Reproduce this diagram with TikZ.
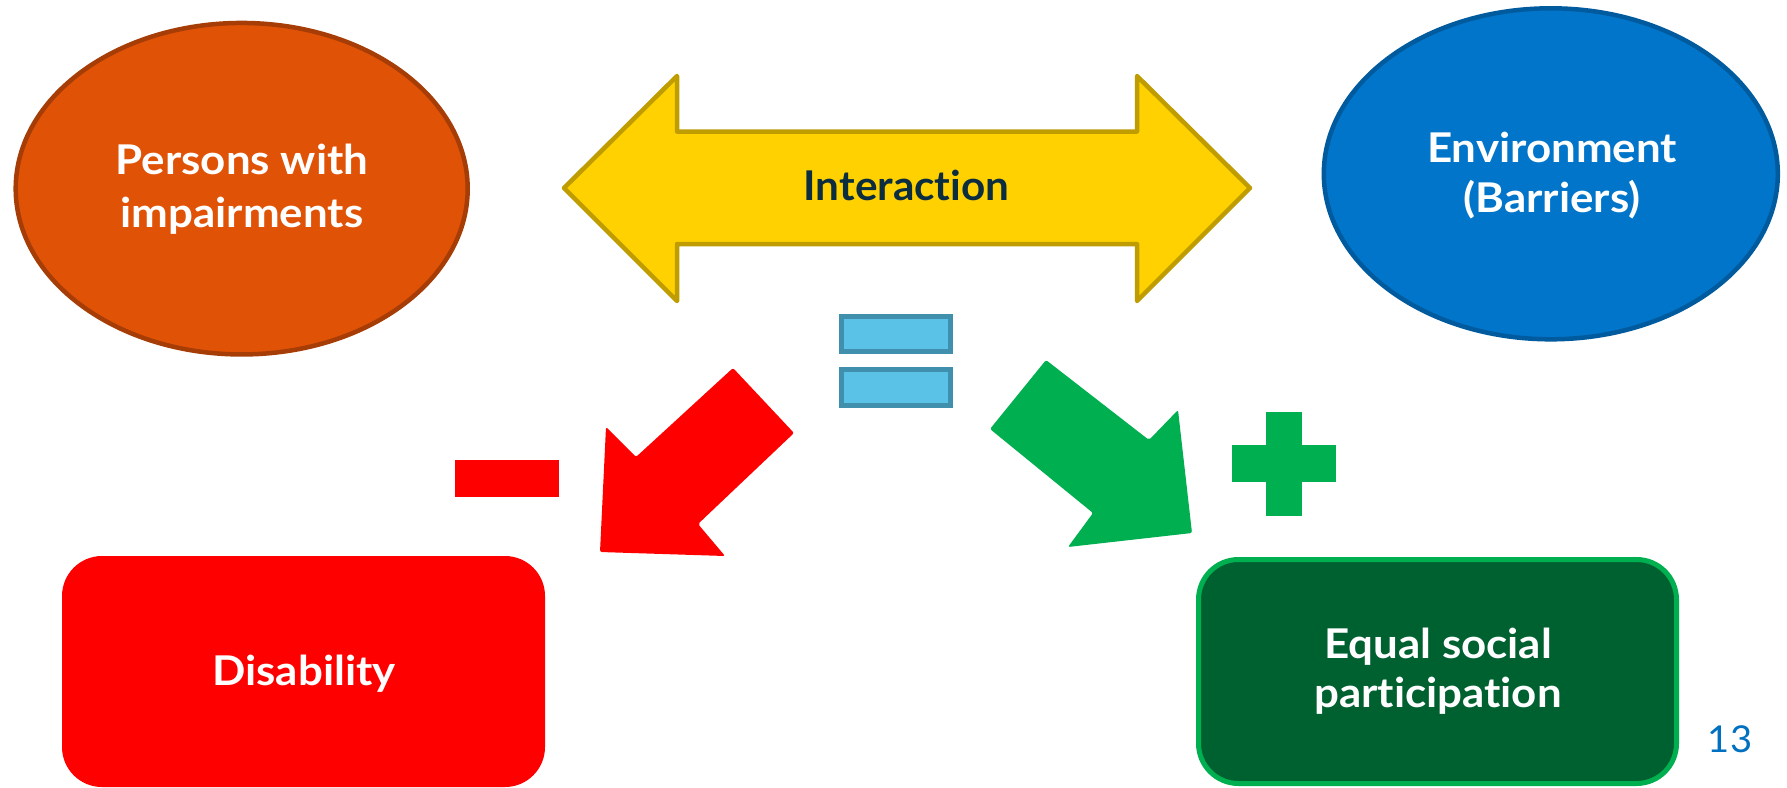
\documentclass[tikz,border=0pt]{standalone}
\usepackage{fontspec}
\setmainfont{Lato}[Ligatures=NoCommon]
\newfontfamily\labelfont{Lato}[FakeStretch=1.07, Ligatures=NoCommon]
\newfontfamily\plainfont{Lato}[FakeStretch=1.03, Ligatures=NoCommon]
\usetikzlibrary{shapes.geometric}

\definecolor{orangefill}{HTML}{E05206}
\definecolor{orangeline}{HTML}{A63C06}
\definecolor{bluefill}{HTML}{0075C9}
\definecolor{blueline}{HTML}{005A9E}
\definecolor{yellowfill}{HTML}{FFD100}
\definecolor{yellowline}{HTML}{BF9C00}
\definecolor{navytext}{HTML}{0B2D3F}
\definecolor{eqfill}{HTML}{5BC2E7}
\definecolor{eqline}{HTML}{3F8FAD}
\definecolor{signred}{HTML}{FF0000}
\definecolor{signgreen}{HTML}{00B050}
\definecolor{darkgreen}{HTML}{006130}
\definecolor{pageblue}{HTML}{0070C0}

\tikzset{
  whitelabel/.style={anchor=base, text=white, inner sep=0pt,
    font=\labelfont\bfseries\fontsize{41}{51}\selectfont},
  bubble/.style={ellipse, line width=4.5pt, inner sep=0pt},
  resultbox/.style={rectangle, rounded corners=40pt, inner sep=0pt},
  bigarrow/.style={rounded corners=2pt},
}

\begin{document}
\begin{tikzpicture}[x=1pt,y=-1pt]
\useasboundingbox (0,0) rectangle (1787,787);
\fill[white] (0,0) rectangle (1787,787);

% the two interacting parties
\node[bubble, draw=orangeline, fill=orangefill,
      minimum width=452pt, minimum height=331.5pt] (persons) at (241.7,188.7) {};
\node[bubble, draw=blueline, fill=bluefill,
      minimum width=454pt, minimum height=331pt] (environment) at (1550.8,173.8) {};

\node[whitelabel] (personsA) at (242,174) {Persons with};
\node[whitelabel] (personsB) at (242,227) {impairments};
\node[whitelabel] (envA) at (1552,162) {Environment};
\node[whitelabel] (envB) at (1552,212) {(Barriers)};

% double-headed interaction arrow
\filldraw[fill=yellowfill, draw=yellowline, line width=4.5pt, line join=round]
  (564,188) -- (677,76) -- (677,131.5) -- (1137,131.5) -- (1137,76)
  -- (1250,188) -- (1137,301) -- (1137,244) -- (677,244) -- (677,301) -- cycle;
\node[anchor=base, text=navytext, inner sep=0pt,
      font=\plainfont\bfseries\fontsize{41}{51}\selectfont] (interaction) at (906.5,200.7) {Interaction};

% equals sign
\filldraw[fill=eqfill, draw=eqline, line width=5pt] (841.8,316.5) rectangle (950.2,351.8);
\filldraw[fill=eqfill, draw=eqline, line width=5pt] (841.8,369.8) rectangle (950.2,405.8);

% red arrow towards disability
\fill[signred, bigarrow]
  (600,552) -- (606,427) -- (636,457) -- (733,368) -- (794,433)
  -- (698,524) -- (725,556) -- cycle;
% minus sign
\fill[signred] (455,460) rectangle (559,497);

% green arrow towards participation
\fill[signgreen, bigarrow]
  (1192,533) -- (1068,547) -- (1093,513) -- (990,429) -- (1046,360)
  -- (1149,440) -- (1178,410) -- cycle;
% plus sign
\fill[signgreen] (1265.7,411.7) rectangle (1302.3,515.7);
\fill[signgreen] (1232.3,445.3) rectangle (1336,482);

% outcomes
\node[resultbox, fill=signred, minimum width=483pt, minimum height=231pt] (disability) at (303.5,671.5) {};
\node[resultbox, draw=signgreen, line width=5pt, fill=darkgreen,
      minimum width=478pt, minimum height=224pt] (participation) at (1437.5,671.5) {};

\node[whitelabel] (disabilityT) at (304,685) {Disability};
\node[whitelabel] (partA) at (1438,658) {Equal social};
\node[whitelabel] (partB) at (1438,707) {participation};

% page number
\node[anchor=base, text=pageblue, inner sep=0pt,
      font=\plainfont\fontsize{37}{44}\selectfont] (pagenum) at (1730,752) {13};
\end{tikzpicture}
\end{document}
